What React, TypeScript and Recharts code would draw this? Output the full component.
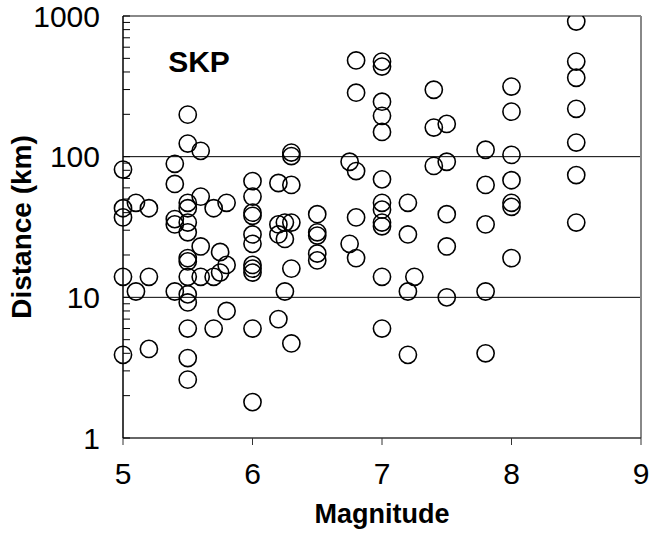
import { ScatterChart, Scatter, XAxis, YAxis, ReferenceLine } from 'recharts';

// magnitude columns and the distances (km) plotted in each
const MAGNITUDES = [5.0, 5.1, 5.2, 5.4, 5.5, 5.6, 5.7, 5.75, 5.8, 6.0, 6.2, 6.25, 6.3, 6.5, 6.75, 6.8, 7.0, 7.2, 7.25, 7.4, 7.5, 7.8, 8.0, 8.5];
const DISTANCES = [
  [81, 43, 37, 14, 3.9],
  [47, 11],
  [43, 14, 4.3],
  [89, 64, 36, 33, 11],
  [199, 124, 47, 43, 34, 29, 19, 18, 14, 10.5, 9.2, 6, 3.7, 2.6],
  [110, 52, 23, 14],
  [43, 14, 6],
  [21, 15],
  [47, 17, 8],
  [67, 52, 40, 38, 28, 24, 17, 16, 15, 6, 1.8],
  [65, 33, 28, 7],
  [34, 26, 11],
  [107, 101, 63, 34, 16, 4.7],
  [39, 29, 27.5, 20.5, 18.3],
  [92, 24],
  [483, 285, 79, 37, 19],
  [474, 437, 246, 195, 150, 69, 47, 42, 34, 32, 14, 6],
  [47, 28, 11, 3.9],
  [14],
  [299, 161, 86],
  [171, 92, 39, 23, 10],
  [112, 63, 33, 11, 4],
  [315, 209, 103, 68, 47, 44, 19],
  [914, 474, 364, 219, 126, 74, 34],
];

const X_TICKS = [5, 6, 7, 8, 9];
const Y_TICKS = [
  1, 2, 3, 4, 5, 6, 7, 8, 9,
  10, 20, 30, 40, 50, 60, 70, 80, 90,
  100, 200, 300, 400, 500, 600, 700, 800, 900,
  1000,
];
const Y_LABELS = [1, 10, 100, 1000];
const GRID_LINES = [10, 100];

const data = MAGNITUDES.flatMap((m, i) => DISTANCES[i].map((d) => ({ m, d })));

const FONT = '"Liberation Sans", Arial, sans-serif';
const Y_GAP = 23;

const YTick = (props: any) => {
  const { x, y, payload } = props;
  const axisX = x + Y_GAP;
  const v = payload.value;
  return (
    <g>
      <line x1={axisX} x2={axisX + 7} y1={y} y2={y} stroke="#000" strokeWidth={1} />
      {Y_LABELS.includes(v) && (
        <text x={x} y={y} dy="0.36em" textAnchor="end" fontSize={30} fontFamily={FONT} fill="#000">
          {v}
        </text>
      )}
    </g>
  );
};

const Ring = (props: any) => (
  <circle cx={props.cx} cy={props.cy} r={8.6} fill="none" stroke="#000" strokeWidth={1.6} />
);

export default function App() {
  return (
    <div style={{ position: 'absolute', left: 0, top: 0, background: '#fff' }}>
      <ScatterChart width={650} height={535} margin={{ top: 16, right: 9, bottom: 0, left: 0 }}>
        <XAxis
          type="number"
          dataKey="m"
          domain={[5, 9]}
          ticks={X_TICKS}
          interval={0}
          height={97}
          tickSize={7}
          tickMargin={18}
          axisLine={{ stroke: '#333', strokeWidth: 1.5 }}
          tickLine={{ stroke: '#333' }}
          tick={{ fontSize: 30, fontFamily: FONT, fill: '#000' }}
          label={{
            content: ({ viewBox }: any) => (
              <text
                x={viewBox.x + viewBox.width / 2}
                y={viewBox.y + 85}
                textAnchor="middle"
                fontSize={27}
                fontWeight="bold"
                fontFamily={FONT}
                fill="#000"
              >
                Magnitude
              </text>
            ),
          }}
        />
        <YAxis
          type="number"
          dataKey="d"
          scale="log"
          domain={[1, 1000]}
          allowDataOverflow
          ticks={Y_TICKS}
          interval={0}
          width={123}
          tickSize={0}
          tickMargin={Y_GAP}
          tick={<YTick />}
          axisLine={{ stroke: '#000', strokeWidth: 1.5 }}
          tickLine={false}
          label={{
            content: ({ viewBox }: any) => {
              const cx = viewBox.x + 21;
              const cy = viewBox.y + viewBox.height / 2;
              return (
                <text
                  x={cx}
                  y={cy}
                  transform={`rotate(-90 ${cx} ${cy})`}
                  dy="0.36em"
                  textAnchor="middle"
                  fontSize={28}
                  fontWeight="bold"
                  fontFamily={FONT}
                  fill="#000"
                >
                  Distance (km)
                </text>
              );
            },
          }}
        />
        {GRID_LINES.map((g) => (
          <ReferenceLine key={g} y={g} stroke="#000" strokeWidth={1} />
        ))}
        <ReferenceLine y={1000} stroke="#888" strokeWidth={2} />
        <ReferenceLine x={9} stroke="#888" strokeWidth={2} />
        <Scatter data={data} shape={<Ring />} isAnimationActive={false} />
        <text x={199} y={72} textAnchor="middle" fontSize={30} fontWeight="bold" fontFamily={FONT} fill="#000">
          SKP
        </text>
      </ScatterChart>
    </div>
  );
}
